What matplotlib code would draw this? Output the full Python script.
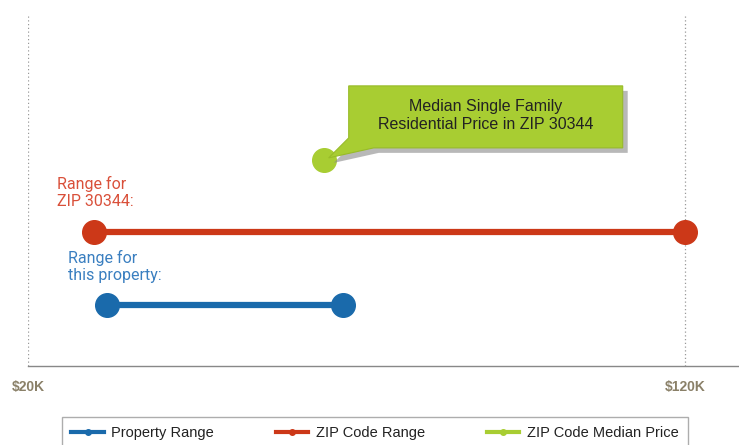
import numpy as np
import matplotlib
matplotlib.use('Agg')
import matplotlib.pyplot as plt
import matplotlib.transforms as mtransforms
from matplotlib.patches import Polygon
from matplotlib.lines import Line2D

# data (values in $K)
series = ['Property Range', 'ZIP Code Range', 'ZIP Code Median Price']
property_range = [32, 68]
zip_range = [30, 120]
zip_median = 65
row_y = [1, 2, 3]  # property, zip, median
x_ticks = [20, 120]
x_tick_labels = ['$20K', '$120K']

blue = '#1a6aab'
red = '#cc3818'
green = '#a8cd32'

fig = plt.figure(figsize=(7.39, 4.45), dpi=100)
ax = fig.add_axes([28 / 739, 1 - 366 / 445, 1 - 28 / 739, (366 - 14) / 445])
ax.set_xlim(20, 128.2)
ax.set_ylim(0.16, 5.01)

# gridlines at ticks
for t in x_ticks:
    ax.axvline(t, color='#999999', ls=(0, (1, 2)), lw=0.9, zorder=0)

ax.plot(property_range, [row_y[0]] * 2, color=blue, lw=4.5, marker='o', ms=17,
        solid_capstyle='butt')
ax.plot(zip_range, [row_y[1]] * 2, color=red, lw=4.5, marker='o', ms=17,
        solid_capstyle='butt', clip_on=False)
ax.plot([zip_median], [row_y[2]], color=green, marker='o', ms=17, ls='none', zorder=3)

# labels above ranges
ax.annotate('Range for\nZIP 30344:', (zip_range[0], row_y[1]), xytext=(-37, 23),
            textcoords='offset pixels', color='#d9503a', fontsize=11.5,
            family='Roboto', va='bottom', ha='left', linespacing=1.2)
ax.annotate('Range for\nthis property:', (property_range[0], row_y[0]), xytext=(-39, 22),
            textcoords='offset pixels', color='#3a7fc0', fontsize=11.5,
            family='Roboto', va='bottom', ha='left', linespacing=1.2)

# callout box next to median point (pixel offsets from the point)
fig.canvas.draw()
trans = fig.dpi_scale_trans + mtransforms.ScaledTranslation(zip_median, row_y[2], ax.transData)
box = np.array([[25, 74], [299, 74], [299, 12], [50, 12], [5, 2], [25, 22]]) / 100.0
shadow = box + np.array([5, -5]) / 100.0
ax.add_patch(Polygon(shadow, closed=True, transform=trans, facecolor='#8a8a8a',
                     edgecolor='none', alpha=0.6, zorder=4))
ax.add_patch(Polygon(box, closed=True, transform=trans, facecolor=green,
                     edgecolor='#98bb28', lw=0.8, zorder=5))
ax.text(1.62, 0.44, 'Median Single Family\nResidential Price in ZIP 30344', transform=trans,
        ha='center', va='center', fontsize=11.5, family='Liberation Sans',
        color='#222222', zorder=6, linespacing=1.25)

# axes styling
for s in ['top', 'right', 'left']:
    ax.spines[s].set_visible(False)
ax.spines['bottom'].set_color('#888888')
ax.spines['bottom'].set_linewidth(1.0)
ax.set_yticks([])
ax.set_xticks(x_ticks)
ax.set_xticklabels(x_tick_labels, fontsize=10, fontweight='bold', color='#8a8068',
                   family='Liberation Sans')
ax.tick_params(axis='x', length=0, pad=10)

# legend
handles = [Line2D([], [], color=c, lw=3, marker='o', ms=4) for c in (blue, red, green)]
fig.legend(handles, series, loc='upper left', ncol=3, mode='expand',
           bbox_to_anchor=(62 / 739, 1 - 417 / 445, 626 / 739, 0.0),
           frameon=True, fancybox=False, edgecolor='#999999',
           prop={'family': 'Liberation Sans', 'size': 10.5}, handlelength=2.2,
           borderpad=0.65, labelcolor='#222222', borderaxespad=0, handletextpad=0.5)

fig.savefig('out.png', dpi=100)
